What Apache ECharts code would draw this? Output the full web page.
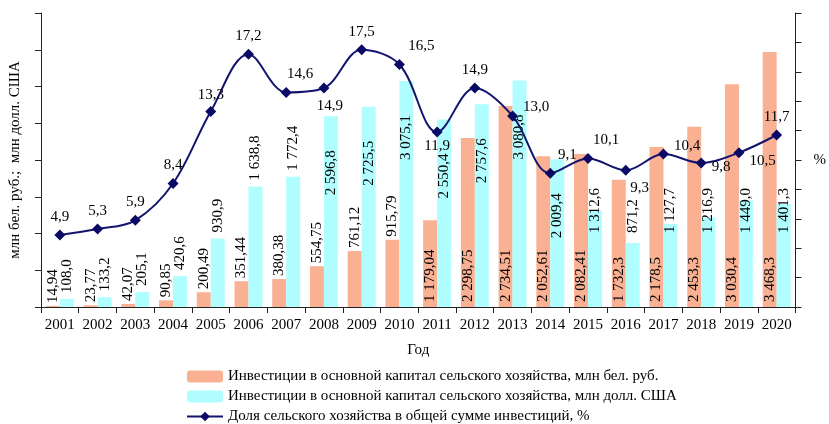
<!DOCTYPE html>
<html>
<head>
<meta charset="utf-8">
<script src="https://cdn.jsdelivr.net/npm/echarts@6/dist/echarts.min.js"></script>
<style>
    html, body { margin: 0; padding: 0; background: #fff; }
    #chart { width: 829px; height: 424px; }
</style>
</head>
<body>
<div id="chart"></div>
<script>
    const years = ['2001', '2002', '2003', '2004', '2005', '2006', '2007', '2008', '2009', '2010',
        '2011', '2012', '2013', '2014', '2015', '2016', '2017', '2018', '2019', '2020'];
    const invRub = [14.94, 23.77, 42.07, 90.85, 200.49, 351.44, 380.38, 554.75, 761.12, 915.79,
        1179.04, 2298.75, 2734.51, 2052.61, 2082.41, 1732.3, 2178.5, 2453.3, 3030.4, 3468.3];
    const invUsd = [108.0, 133.2, 205.1, 420.6, 930.9, 1638.8, 1772.4, 2596.8, 2725.5, 3075.1,
        2550.4, 2757.6, 3080.8, 2009.4, 1312.6, 871.2, 1127.7, 1216.9, 1449.0, 1401.3];
    const sharePct = [4.9, 5.3, 5.9, 8.4, 13.3, 17.2, 14.6, 14.9, 17.5, 16.5,
        11.9, 14.9, 13.0, 9.1, 10.1, 9.3, 10.4, 9.8, 10.5, 11.7];

    const nameRub = 'Инвестиции в основной капитал сельского хозяйства, млн бел. руб.';
    const nameUsd = 'Инвестиции в основной капитал сельского хозяйства, млн долл. США';
    const nameShare = 'Доля сельского хозяйства в общей сумме инвестиций, %';

    const font = '"Liberation Serif", "DejaVu Serif", serif';

    // 1 179,04 style
    function fmt(v, d) {
        let parts = v.toFixed(d).split('.');
        let intPart = parts[0].replace(/\B(?=(\d{3})+(?!\d))/g, ' ');
        return parts.length > 1 ? intPart + ',' + parts[1] : intPart;
    }

    function rubLabel(i) {
        if (i >= 10) return { position: 'insideBottom', distance: 5 };
        return { position: 'top', distance: 3 };
    }

    function usdLabel(i) {
        if (i <= 6) return { position: 'top', distance: 6 };
        if (i <= 13) return { position: 'insideTop', distance: 34, align: 'right' };
        return { position: 'insideBottom', distance: 74 };
    }

    // where each share label sits relative to its point
    const shareLabelCfg = [
        { position: 'top' }, { position: 'top' }, { position: 'top' }, { position: 'top' },
        { position: 'top', offset: [0, 2] }, { position: 'top' },
        { position: 'top', offset: [14, 0] }, { position: 'bottom', offset: [6, 0] },
        { position: 'top' }, { position: 'top', offset: [22, 0] },
        { position: 'bottom', offset: [0, -4] }, { position: 'top' },
        { position: 'right', offset: [0, -9] }, { position: 'top', offset: [17, 0] },
        { position: 'top', offset: [18, 0] }, { position: 'bottom', offset: [14, 0] },
        { position: 'right', offset: [0, -8] }, { position: 'right', offset: [0, 4] },
        { position: 'right', offset: [0, 8] }, { position: 'top' }
    ];

    let chart = echarts.init(document.getElementById('chart'));

    let option = {
        animation: false,
        textStyle: { fontFamily: font, color: '#000' },
        grid: { left: 40, right: 30, top: 13, bottom: 117 },
        legend: {
            orient: 'vertical',
            left: 186,
            top: 369,
            height: 60,
            padding: 0,
            itemWidth: 36,
            itemHeight: 12,
            itemGap: 5,
            textStyle: { fontFamily: font, fontSize: 15, color: '#000' },
            data: [nameRub, nameUsd, nameShare]
        },
        xAxis: {
            type: 'category',
            data: years,
            boundaryGap: true,
            name: 'Год',
            nameLocation: 'middle',
            nameGap: 36,
            nameTextStyle: { fontFamily: font, fontSize: 15, color: '#000' },
            axisLine: { lineStyle: { color: '#222', width: 1 } },
            axisTick: { show: true, length: 6, lineStyle: { color: '#222' } },
            axisLabel: { fontFamily: font, fontSize: 15, color: '#000', margin: 11, interval: 0 }
        },
        yAxis: [
            {
                type: 'value',
                min: 0,
                max: 4000,
                interval: 500,
                name: 'млн бел. руб.;  млн долл. США',
                nameLocation: 'middle',
                nameGap: 18,
                nameTextStyle: { fontFamily: font, fontSize: 15, color: '#000' },
                axisLine: { show: true, lineStyle: { color: '#222' } },
                axisTick: { show: true, length: 6, lineStyle: { color: '#222' } },
                axisLabel: { show: false },
                splitLine: { show: false }
            },
            {
                type: 'value',
                min: 0,
                max: 20,
                interval: 2,
                name: '%',
                nameLocation: 'middle',
                nameRotate: 0,
                nameGap: 18,
                nameTextStyle: { fontFamily: font, fontSize: 15, color: '#000' },
                axisLine: { show: true, lineStyle: { color: '#222' } },
                axisTick: { show: true, length: 6, lineStyle: { color: '#222' } },
                axisLabel: { show: false },
                splitLine: { show: false }
            }
        ],
        series: [
            {
                name: nameRub,
                type: 'bar',
                barGap: '0%',
                barCategoryGap: '26%',
                itemStyle: { color: '#F9B093' },
                label: {
                    show: true,
                    rotate: 90,
                    align: 'left',
                    verticalAlign: 'middle',
                    fontFamily: font,
                    fontSize: 15,
                    color: '#000'
                },
                data: invRub.map((v, i) => ({
                    value: v,
                    label: Object.assign({ formatter: fmt(v, i <= 14 ? 2 : 1) }, rubLabel(i))
                }))
            },
            {
                name: nameUsd,
                type: 'bar',
                itemStyle: { color: '#B0FEFF' },
                label: {
                    show: true,
                    rotate: 90,
                    align: 'left',
                    verticalAlign: 'middle',
                    fontFamily: font,
                    fontSize: 15,
                    color: '#000'
                },
                data: invUsd.map((v, i) => ({
                    value: v,
                    label: Object.assign({ formatter: fmt(v, 1) }, usdLabel(i))
                }))
            },
            {
                name: nameShare,
                type: 'line',
                yAxisIndex: 1,
                smooth: 0.35,
                symbol: 'diamond',
                symbolSize: 11,
                lineStyle: { color: '#14146E', width: 2 },
                itemStyle: { color: '#0A0A66' },
                label: {
                    show: true,
                    fontFamily: font,
                    fontSize: 15,
                    color: '#000',
                    distance: 5
                },
                data: sharePct.map((v, i) => ({
                    value: v,
                    label: Object.assign({ formatter: fmt(v, 1) }, shareLabelCfg[i])
                }))
            }
        ]
    };

    chart.setOption(option);
</script>
</body>
</html>
